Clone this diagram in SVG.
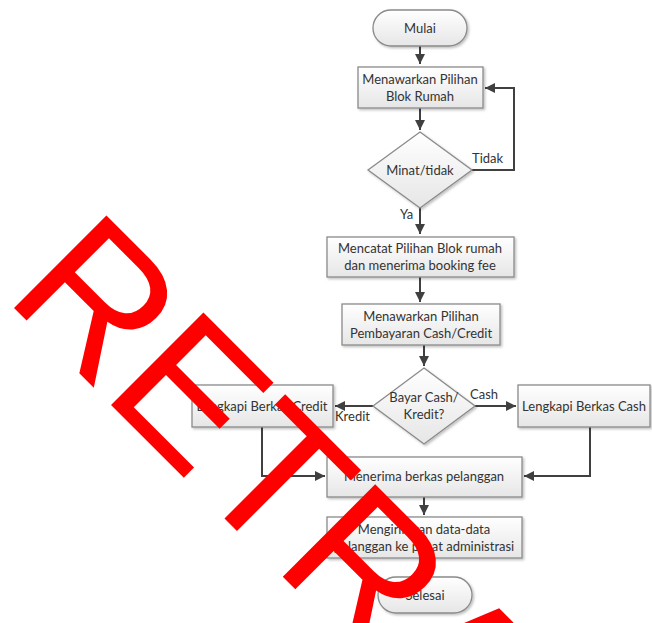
<svg xmlns="http://www.w3.org/2000/svg" width="652" height="623" viewBox="0 0 652 623">
<defs>
<linearGradient id="g" x1="0" y1="0" x2="0" y2="1">
<stop offset="0" stop-color="#ffffff"/>
<stop offset="1" stop-color="#e6e6e6"/>
</linearGradient>
<filter id="sh" x="-10%" y="-10%" width="130%" height="140%">
<feDropShadow dx="1.5" dy="1.5" stdDeviation="1" flood-color="#000" flood-opacity="0.25"/>
</filter>
<marker id="ah" viewBox="0 0 10 10" refX="10" refY="5" markerWidth="5" markerHeight="5" orient="auto" markerUnits="strokeWidth">
<path d="M0,0 L10,5 L0,10 z" fill="#404040"/>
</marker>
</defs>
<style>
.b{fill:url(#g);stroke:#8a8a8a;stroke-width:1.3;filter:url(#sh)}
.t{font-family:Lato,"Open Sans","Liberation Sans",sans-serif;font-size:13px;fill:#333;text-anchor:middle}
.l{font-family:Lato,"Open Sans","Liberation Sans",sans-serif;font-size:13px;fill:#333}
.c{fill:none;stroke:#404040;stroke-width:2;marker-end:url(#ah)}
.w{font-family:"Liberation Sans",Arial,sans-serif;font-size:190px;fill:#ff0000}
</style>
<rect width="652" height="623" fill="#fff"/>
<g id="connectors">
<path class="c" d="M420,46 V64"/>
<path class="c" d="M420,108 V130"/>
<path class="c" d="M472,170 H514 V88 H485"/>
<path class="c" d="M420,208 V234"/>
<path class="c" d="M420,277 V302"/>
<path class="c" d="M424,345 V366"/>
<path class="c" d="M373,406 H335"/>
<path class="c" d="M475,406 H516"/>
<path class="c" d="M262,427 V476 H325"/>
<path class="c" d="M590,427 V476 H524"/>
<path class="c" d="M424,497 V515"/>
<path class="c" d="M424,558 V575"/>
<text class="l" x="472" y="163">Tidak</text>
<text class="l" x="400" y="219">Ya</text>
<text class="l" x="335" y="421">Kredit</text>
<text class="l" x="470" y="399">Cash</text>
</g>
<g id="mulai"><rect class="b" x="373" y="10" width="94" height="36" rx="18"/><text class="t" x="420" y="33">Mulai</text></g>
<g id="tawar-blok"><rect class="b" x="358" y="67" width="125" height="41"/><text class="t" x="420" y="84">Menawarkan Pilihan</text><text class="t" x="420" y="101">Blok Rumah</text></g>
<g id="minat"><polygon class="b" points="420,132 472,170 420,208 368,170"/><text class="t" x="420" y="175">Minat/tidak</text></g>
<g id="catat"><rect class="b" x="327" y="237" width="187" height="40"/><text class="t" x="420" y="253">Mencatat Pilihan Blok rumah</text><text class="t" x="420" y="270">dan menerima booking fee</text></g>
<g id="tawar-bayar"><rect class="b" x="342" y="304" width="158" height="41"/><text class="t" x="421" y="321">Menawarkan Pilihan</text><text class="t" x="421" y="338">Pembayaran Cash/Credit</text></g>
<g id="bayar"><polygon class="b" points="424,368 475,406 424,444 373,406"/><text class="t" x="424" y="402">Bayar Cash/</text><text class="t" x="424" y="419">Kredit?</text></g>
<g id="credit"><rect class="b" x="192" y="385" width="141" height="42"/><text class="t" x="262" y="411">Lengkapi Berkas Credit</text></g>
<g id="cash"><rect class="b" x="518" y="385" width="132" height="42"/><text class="t" x="584" y="411">Lengkapi Berkas Cash</text></g>
<g id="terima"><rect class="b" x="327" y="457" width="195" height="40"/><text class="t" x="424" y="481">Menerima berkas pelanggan</text></g>
<g id="kirim"><rect class="b" x="327" y="517" width="195" height="41"/><text class="t" x="424" y="534">Mengirimkan data-data</text><text class="t" x="424" y="551">pelanggan ke pusat administrasi</text></g>
<g id="selesai"><rect class="b" x="378" y="577" width="94" height="36" rx="18"/><text class="t" x="425" y="600">Selesai</text></g>
<text class="w" transform="translate(3,297) rotate(45)">RETRACTED</text>
</svg>
